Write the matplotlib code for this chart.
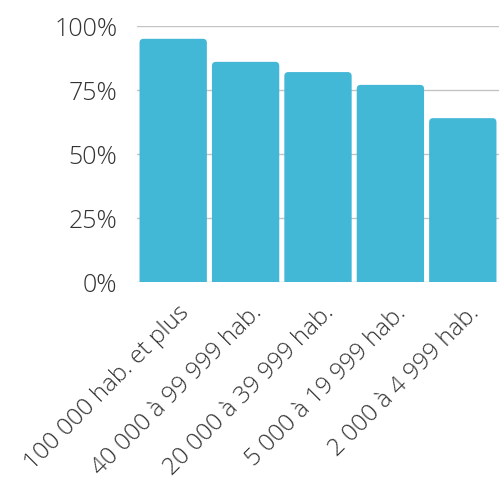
import matplotlib
matplotlib.use("Agg")
import matplotlib.pyplot as plt
from matplotlib.patches import FancyBboxPatch
from matplotlib.ticker import PercentFormatter
from matplotlib.transforms import ScaledTranslation

categories = ["100 000 hab. et plus", "40 000 à 99 999 hab.", "20 000 à 39 999 hab.",
              "5 000 à 19 999 hab.", "2 000 à 4 999 hab."]
values = [0.95, 0.86, 0.82, 0.77, 0.64]
yticks = [0, 0.25, 0.5, 0.75, 1.0]

plt.rcParams["font.family"] = ["Open Sans", "DejaVu Sans"]
color = "#42b7d6"

fig = plt.figure(figsize=(5.01, 4.85), dpi=100)
ax = fig.add_axes([137 / 501, 1 - 283 / 485, 362 / 501, 256 / 485])

x = list(range(len(categories)))
bars = ax.bar(x, values, width=0.93, color=color)

# replace square bars with rounded-top versions
px_x = 362 / len(categories)
aspect = (1 / 256) / (1 / px_x)
for b in bars:
    bx, bw, bh = b.get_x(), b.get_width(), b.get_height()
    b.set_visible(False)
    patch = FancyBboxPatch((bx, -0.05), bw, bh + 0.05,
                           boxstyle="round,pad=0,rounding_size=%f" % (4 / px_x),
                           mutation_aspect=aspect, fc=color, ec="none", zorder=2)
    ax.add_patch(patch)

ax.set_xlim(-0.5, len(categories) - 0.5)
ax.set_ylim(0, 1.0)
ax.set_yticks(yticks)
ax.yaxis.set_major_formatter(PercentFormatter(1.0, decimals=0))
ax.grid(axis="y", color="#c4c4c4", linewidth=1)
ax.set_axisbelow(True)
for s in ax.spines.values():
    s.set_visible(False)
ax.tick_params(length=0, colors="#333333")
ax.tick_params(axis="y", pad=14, labelsize=18)
ax.set_xticks(x)
ax.set_xticklabels(categories, rotation=45, ha="right", rotation_mode="anchor",
                   fontsize=17.5, color="#333333")
ax.tick_params(axis="x", pad=13)
shift = ScaledTranslation(3 / 72, 0, fig.dpi_scale_trans)
for t in ax.get_xticklabels():
    t.set_transform(t.get_transform() + shift)
for t in ax.get_yticklabels() + ax.get_xticklabels():
    t.set_fontweight("light")

fig.savefig("out.png", dpi=100)
